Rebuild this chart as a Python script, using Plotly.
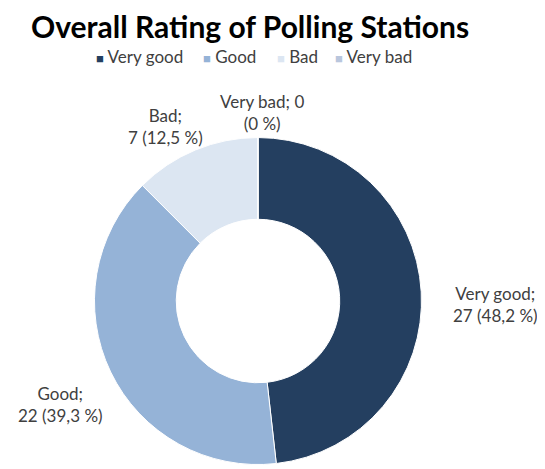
import plotly.graph_objects as go

categories = ["Very good", "Good", "Bad", "Very bad"]
counts = [27, 22, 7, 0]
colors = ["#243F60", "#95B3D7", "#DCE6F2", "#B9C6DD"]
title_text = "Overall Rating of Polling Stations"

total = sum(counts)

def pct(v):
    s = f"{v / total * 100:.1f}".replace(".", ",")
    return s[:-2] if s.endswith(",0") else s

label_texts = {
    "Very good": f"Very good;<br>{counts[0]} ({pct(counts[0])} %)",
    "Good": f"Good;<br>{counts[1]} ({pct(counts[1])} %)",
    "Bad": f"Bad;<br>{counts[2]} ({pct(counts[2])} %)",
    "Very bad": f"Very bad; {counts[3]}<br>({pct(counts[3])} %)",
}

# layout positions (paper coords)
label_pos = {
    "Very good": (0.907, 0.356),
    "Good": (0.097, 0.139),
    "Bad": (0.294, 0.744),
    "Very bad": (0.473, 0.774),
}
legend_x = [0.160, 0.359, 0.497, 0.605]
legend_y = 0.894

FONT = "Lato"

fig = go.Figure(
    go.Pie(
        labels=categories,
        values=counts,
        marker=dict(colors=colors, line=dict(color="white", width=1)),
        hole=0.5,
        sort=False,
        direction="clockwise",
        rotation=0,
        textinfo="none",
        domain=dict(x=[0.161, 0.770], y=[0.0097, 0.719]),
        showlegend=False,
    )
)

annotations = []
for cat in categories:
    x, y = label_pos[cat]
    annotations.append(
        dict(
            x=x, y=y, xref="paper", yref="paper",
            text=label_texts[cat], showarrow=False,
            font=dict(family=FONT, size=17, color="#404040"),
            align="center", xanchor="center", yanchor="middle",
        )
    )

for cat, col, lx in zip(categories, colors, legend_x):
    annotations.append(
        dict(
            x=lx, y=legend_y, xref="paper", yref="paper",
            text=f"<span style='color:{col};font-size:13px'>■</span> {cat}",
            showarrow=False,
            font=dict(family=FONT, size=17, color="#404040"),
            xanchor="left", yanchor="middle",
        )
    )

annotations.append(
    dict(
        x=0.4507, y=0.962, xref="paper", yref="paper",
        text=f"<b>{title_text}</b>", showarrow=False,
        font=dict(family=FONT, size=30, color="#000000"),
        xanchor="center", yanchor="middle",
    )
)

fig.update_layout(
    width=537,
    height=461,
    margin=dict(l=0, r=0, t=0, b=0),
    paper_bgcolor="white",
    plot_bgcolor="white",
    annotations=annotations,
    showlegend=False,
)

fig.write_html("out.html")
